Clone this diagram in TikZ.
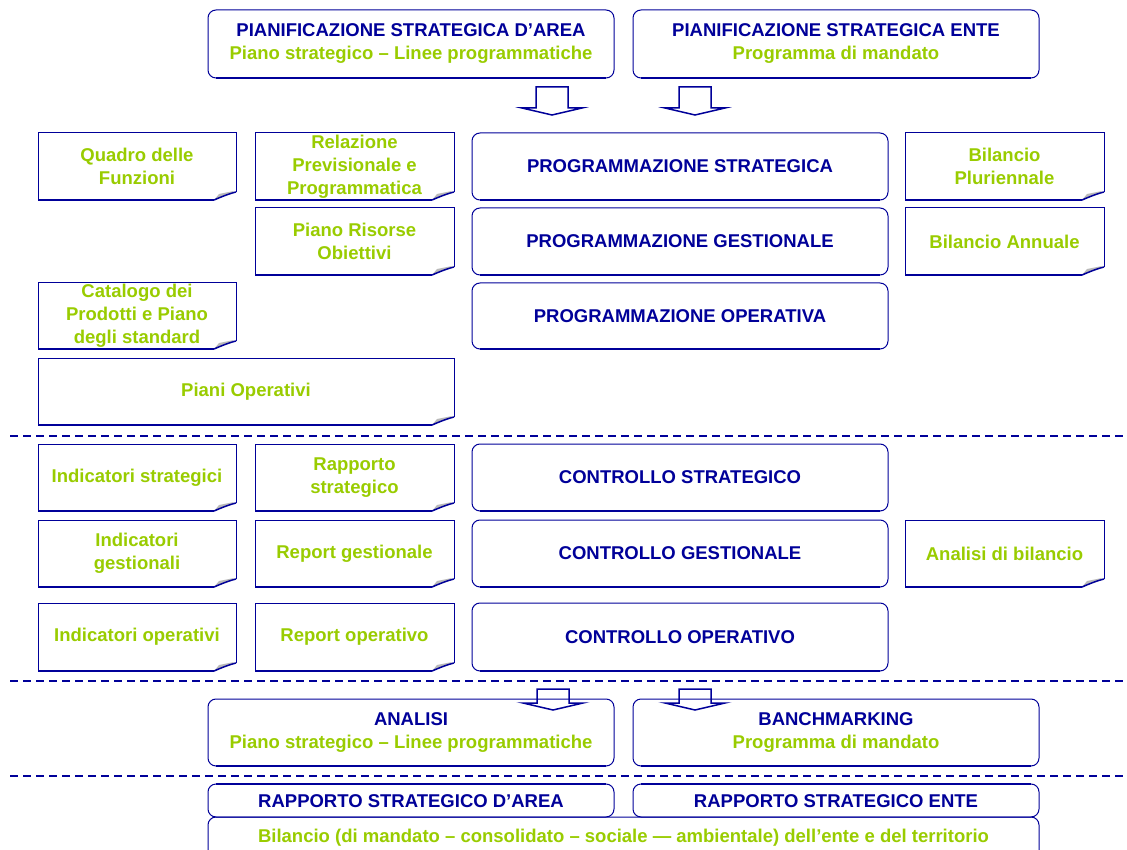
\documentclass[tikz,border=0pt]{standalone}
\usepackage{fontspec}
\setmainfont{Liberation Sans}
\usepackage{tikz}

\definecolor{dunkelblau}{RGB}{0,0,153}
\definecolor{hellgruen}{RGB}{153,204,0}
\definecolor{faltgrau}{RGB}{185,185,185}

\tikzset{
	rand/.style={draw=dunkelblau, line width=1pt},
	randfett/.style={draw=dunkelblau, line width=2.5pt},
	falte/.style={fill=faltgrau},
	randfalte/.style={draw=dunkelblau, line width=1.5pt},
	blau/.style={text=dunkelblau, font=\bfseries\fontsize{18.5}{23}\selectfont, align=center},
	gruen/.style={text=hellgruen, font=\bfseries\fontsize{18.5}{23}\selectfont, align=center},
	trenner/.style={draw=dunkelblau, line width=2pt, dash pattern=on 8pt off 5pt},
	pfeil/.style={draw=dunkelblau, line width=1.5pt}
}

% Notizzettel mit Eselsohr: Name, x1, y1, x2, y2, Text
\newcommand{\scheda}[6]{%
	\draw[rand] (#4,#5-8) -- (#4,#3) -- (#2,#3) -- (#2,#5);
	\draw[randfett] (#2,#5) -- (#4-22,#5);
	\fill[falte] (#4-22,#5) -- (#4-17,#5-6) -- (#4-2,#5-9) -- (#4-8,#5-5) -- (#4-15,#5-3) -- cycle;
	\draw[randfalte] (#4,#5-8) .. controls (#4-8,#5-6) and (#4-15,#5-3) .. (#4-22,#5);
	\node[gruen] (#1) at ({(#2+#4)/2},{(#3+#5)/2}) {#6};
}
% abgerundeter Kasten: Name, x1, y1, x2, y2, Text
\newcommand{\riquadro}[6]{%
	\draw[rand, rounded corners=8] (#2,#3) rectangle (#4,#5);
	\draw[randfett] (#2+8,#5) -- (#4-8,#5);
	\node[blau] (#1) at ({(#2+#4)/2},{(#3+#5)/2}) {#6};
}

\begin{document}
\begin{tikzpicture}[x=1pt, y=-1pt]
	\fill[white] (0,0) rectangle (1127,850);
	\useasboundingbox (0,0) rectangle (1127,850);
	
	%Pianificazione oben
	\riquadro{pianarea}{208}{10}{614}{78}{PIANIFICAZIONE STRATEGICA D’AREA\\\textcolor{hellgruen}{Piano strategico – Linee programmatiche}}
	\riquadro{pianente}{633}{10}{1039}{78}{PIANIFICAZIONE STRATEGICA ENTE\\\textcolor{hellgruen}{Programma di mandato}}
	
	%Blockpfeile
	\foreach \ax/\yo/\yu in {552/87/108, 695/87/108, 553/689/703, 695/689/703}
		\draw[pfeil] (\ax-16,\yo) -- (\ax+16,\yo) -- (\ax+16,\yu) -- (\ax+30,\yu) -- (\ax,\yu+7) -- (\ax-30,\yu) -- (\ax-16,\yu) -- cycle;
	
	%Programmazione
	\riquadro{progstrat}{472}{133}{888}{200}{PROGRAMMAZIONE STRATEGICA}
	\riquadro{proggest}{472}{208}{888}{275}{PROGRAMMAZIONE GESTIONALE}
	\riquadro{progop}{472}{283}{888}{349}{PROGRAMMAZIONE OPERATIVA}
	
	\scheda{quadro}{38}{133}{236}{200}{Quadro delle\\Funzioni}
	\scheda{rpp}{255}{133}{454}{200}{Relazione\\Previsionale e\\Programmatica}
	\scheda{bilpluri}{905}{133}{1104}{200}{Bilancio\\Pluriennale}
	\scheda{pro}{255}{208}{454}{275}{Piano Risorse\\Obiettivi}
	\scheda{bilann}{905}{208}{1104}{275}{Bilancio Annuale}
	\scheda{catalogo}{38}{283}{236}{349}{Catalogo dei\\Prodotti e Piano\\degli standard}
	\scheda{pianiop}{38}{358}{454}{425}{Piani Operativi}
	
	\draw[trenner] (10,436) -- (1127,436);
	
	%Controllo
	\riquadro{contrstrat}{472}{444}{888}{511}{CONTROLLO STRATEGICO}
	\riquadro{contrgest}{472}{520}{888}{587}{CONTROLLO GESTIONALE}
	\riquadro{controp}{472}{603}{888}{671}{CONTROLLO OPERATIVO}
	
	\scheda{indstrat}{38}{444}{236}{511}{Indicatori strategici}
	\scheda{rappstrat}{255}{444}{454}{511}{Rapporto\\strategico}
	\scheda{indgest}{38}{520}{236}{587}{Indicatori\\gestionali}
	\scheda{repgest}{255}{520}{454}{587}{Report gestionale}
	\scheda{analbil}{905}{520}{1104}{587}{Analisi di bilancio}
	\scheda{indop}{38}{603}{236}{671}{Indicatori operativi}
	\scheda{repop}{255}{603}{454}{671}{Report operativo}
	
	\draw[trenner] (10,681) -- (1127,681);
	
	%Analisi
	\riquadro{analisi}{208}{699}{614}{766}{ANALISI\\\textcolor{hellgruen}{Piano strategico – Linee programmatiche}}
	\riquadro{bench}{633}{699}{1039}{766}{BANCHMARKING\\\textcolor{hellgruen}{Programma di mandato}}
	
	\draw[trenner] (10,776) -- (1127,776);
	
	%Rapporti unten
	\draw[rand, rounded corners=8] (208,784) rectangle (614,817);
	\draw[randfett] (216,784) -- (606,784);
	\node[blau] (rapparea) at (411,801) {RAPPORTO STRATEGICO D’AREA};
	\draw[rand, rounded corners=8] (633,784) rectangle (1039,817);
	\draw[randfett] (641,784) -- (1031,784);
	\node[blau] (rappente) at (836,801) {RAPPORTO STRATEGICO ENTE};
	\draw[rand, rounded corners=8] (208,817) rectangle (1039,860);
	\node[gruen] (bilancio) at (623.5,838) {Bilancio (di mandato – consolidato – sociale — ambientale) dell’ente e del territorio};
\end{tikzpicture}
\end{document}
